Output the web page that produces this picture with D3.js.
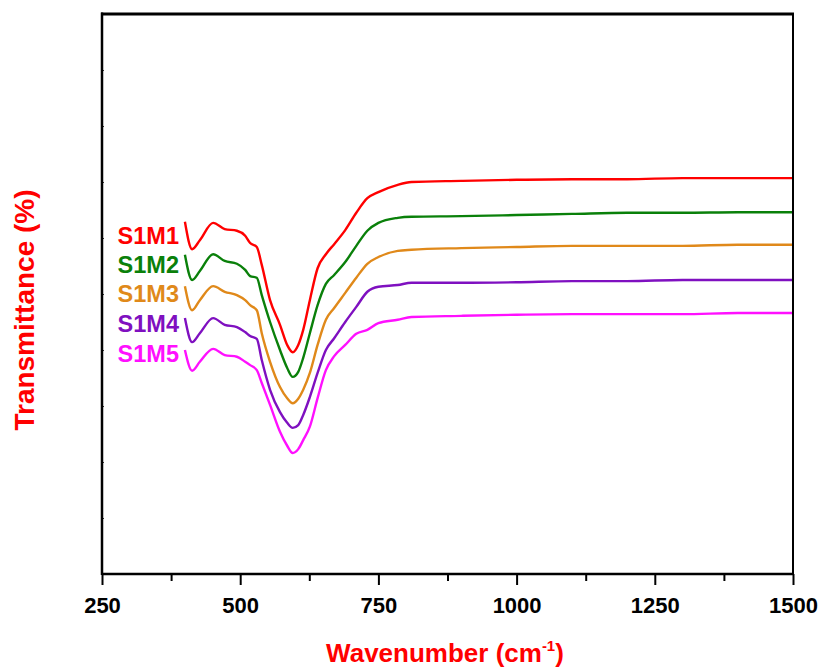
<!DOCTYPE html>
<html>
<head>
<meta charset="utf-8">
<script src="https://cdn.jsdelivr.net/npm/d3@7"></script>
<style>
  body { margin: 0; background: #fff; }
  text { font-family: "Liberation Sans", Arial, sans-serif; font-weight: bold; }
</style>
</head>
<body>
<div id="container"></div>
<script>
// wavenumber grid (cm-1) shared by all spectra
const wavenumbers = [400, 413, 427, 451, 472, 494, 509, 518, 530, 539, 554, 572, 585, 595, 605, 614, 626,
  640, 655, 670, 690, 710, 730, 750, 785, 810, 900, 1000, 1100, 1200, 1300, 1400, 1500];

// transmittance (%), curves are offset as in the original plot
const s1m1 = [62.9, 58.0, 59.6, 62.7, 61.6, 61.3, 60.4, 59.1, 58.4, 55.2, 48.9, 44.5, 40.9, 39.6, 40.9, 43.6, 48.9,
  54.6, 57.1, 58.9, 61.4, 64.5, 67.1, 68.2, 69.5, 70.0, 70.2, 70.4, 70.5, 70.5, 70.7, 70.7, 70.7];
const s1m2 = [57.0, 52.5, 54.1, 57.1, 55.9, 55.4, 54.3, 53.2, 52.9, 49.8, 45.0, 40.0, 36.8, 35.2, 36.1, 38.6, 43.0,
  48.0, 51.8, 53.4, 55.7, 58.6, 61.3, 62.7, 63.6, 63.8, 63.9, 64.1, 64.3, 64.5, 64.5, 64.6, 64.6];
const s1m3 = [51.4, 47.1, 48.9, 51.4, 50.4, 49.8, 48.9, 48.0, 47.1, 43.0, 37.9, 33.4, 31.4, 30.5, 31.3, 32.9, 35.9,
  40.9, 45.4, 47.5, 50.2, 52.9, 55.4, 56.6, 57.7, 57.9, 58.2, 58.4, 58.6, 58.6, 58.6, 58.8, 58.8];
const s1m4 = [45.7, 41.4, 43.0, 45.7, 44.5, 44.1, 43.2, 42.5, 42.0, 38.2, 32.9, 28.9, 27.0, 26.1, 26.6, 28.4, 31.6,
  35.9, 40.0, 42.1, 45.0, 47.7, 50.4, 51.3, 51.6, 52.0, 52.0, 52.1, 52.3, 52.3, 52.5, 52.5, 52.5];
const s1m5 = [40.0, 36.3, 37.9, 40.2, 39.1, 38.8, 37.9, 37.3, 36.4, 34.1, 30.2, 25.4, 22.9, 21.6, 22.3, 23.9, 26.3,
  31.4, 36.4, 38.9, 40.9, 42.9, 43.6, 44.8, 45.4, 45.9, 46.1, 46.3, 46.4, 46.4, 46.4, 46.6, 46.6];

const seriesNames = ["S1M1", "S1M2", "S1M3", "S1M4", "S1M5"];
const seriesValues = [s1m1, s1m2, s1m3, s1m4, s1m5];
const seriesColors = ["#ff0000", "#0a800a", "#e0891a", "#7f10c0", "#ff10ff"];

const xTicks = [250, 500, 750, 1000, 1250, 1500];
const xMinorTicks = [375, 625, 875, 1125, 1375];
const yTicks = [0, 10, 20, 30, 40, 50, 60, 70, 80, 90, 100];

const width = 821, height = 672;
const margin = { left: 102, right: 28, top: 14, bottom: 98 };

const svg = d3.select("#container").append("svg")
  .attr("width", width)
  .attr("height", height);

const x = d3.scaleLinear().domain([250, 1500]).range([margin.left, width - margin.right]);
const y = d3.scaleLinear().domain([0, 100]).range([height - margin.bottom, margin.top]);

// curves
const line = d3.line()
  .x(d => x(d[0]))
  .y(d => y(d[1]))
  .curve(d3.curveMonotoneX);

seriesValues.forEach((vals, i) => {
  svg.append("path")
    .datum(wavenumbers.map((w, j) => [w, vals[j]]))
    .attr("fill", "none")
    .attr("stroke", seriesColors[i])
    .attr("stroke-width", 2.4)
    .attr("stroke-linejoin", "round")
    .attr("d", line);
});

// series labels next to the curve starts
const labelBase = [244, 273, 302, 332, 362];
seriesNames.forEach((n, i) => {
  svg.append("text")
    .attr("x", 179)
    .attr("y", labelBase[i])
    .attr("text-anchor", "end")
    .attr("font-size", 23.5)
    .attr("fill", seriesColors[i])
    .text(n);
});

// bottom axis
const xAxis = svg.append("g")
  .attr("transform", `translate(0,${y(0)})`)
  .call(d3.axisBottom(x).tickValues(xTicks).tickSize(11).tickFormat(d3.format("d")));
xAxis.select(".domain").remove();
xAxis.selectAll(".tick line").attr("stroke", "#000").attr("stroke-width", 2);
xAxis.selectAll(".tick text")
  .attr("font-size", 22)
  .attr("font-family", "Liberation Sans, Arial, sans-serif")
  .attr("font-weight", "bold")
  .attr("fill", "#000")
  .attr("dy", "1.15em");

const xMinor = svg.append("g")
  .attr("transform", `translate(0,${y(0)})`)
  .call(d3.axisBottom(x).tickValues(xMinorTicks).tickSize(7).tickFormat(""));
xMinor.select(".domain").remove();
xMinor.selectAll(".tick line").attr("stroke", "#000").attr("stroke-width", 2);

// left axis: tiny inner ticks, no labels
const yAxis = svg.append("g")
  .attr("transform", `translate(${x(250)},0)`)
  .call(d3.axisRight(y).tickValues(yTicks).tickSize(2).tickFormat(""));
yAxis.select(".domain").remove();
yAxis.selectAll(".tick line").attr("stroke", "#333").attr("stroke-width", 1);

// frame
svg.append("line").attr("x1", x(250)).attr("x2", x(1500)).attr("y1", y(0)).attr("y2", y(0))
  .attr("stroke", "#000").attr("stroke-width", 2.5);
svg.append("line").attr("x1", x(250)).attr("x2", x(250)).attr("y1", y(100) - 1.5).attr("y2", y(0) + 1)
  .attr("stroke", "#000").attr("stroke-width", 2.5);
svg.append("line").attr("x1", x(250) - 1).attr("x2", x(1500) + 1).attr("y1", y(100)).attr("y2", y(100))
  .attr("stroke", "#000").attr("stroke-width", 3);
svg.append("line").attr("x1", x(1500)).attr("x2", x(1500)).attr("y1", y(100)).attr("y2", y(0))
  .attr("stroke", "#000").attr("stroke-width", 2);

// axis titles
const xt = svg.append("text")
  .attr("x", 445)
  .attr("y", 662)
  .attr("text-anchor", "middle")
  .attr("font-size", 26)
  .attr("fill", "#ff0000");
xt.append("tspan").text("Wavenumber (cm");
xt.append("tspan").attr("font-size", 15).attr("dy", -11).text("-1");
xt.append("tspan").attr("dy", 11).text(")");

svg.append("text")
  .attr("transform", `translate(34,310) rotate(-90)`)
  .attr("text-anchor", "middle")
  .attr("font-size", 28)
  .attr("fill", "#ff0000")
  .text("Transmittance (%)");
</script>
</body>
</html>
